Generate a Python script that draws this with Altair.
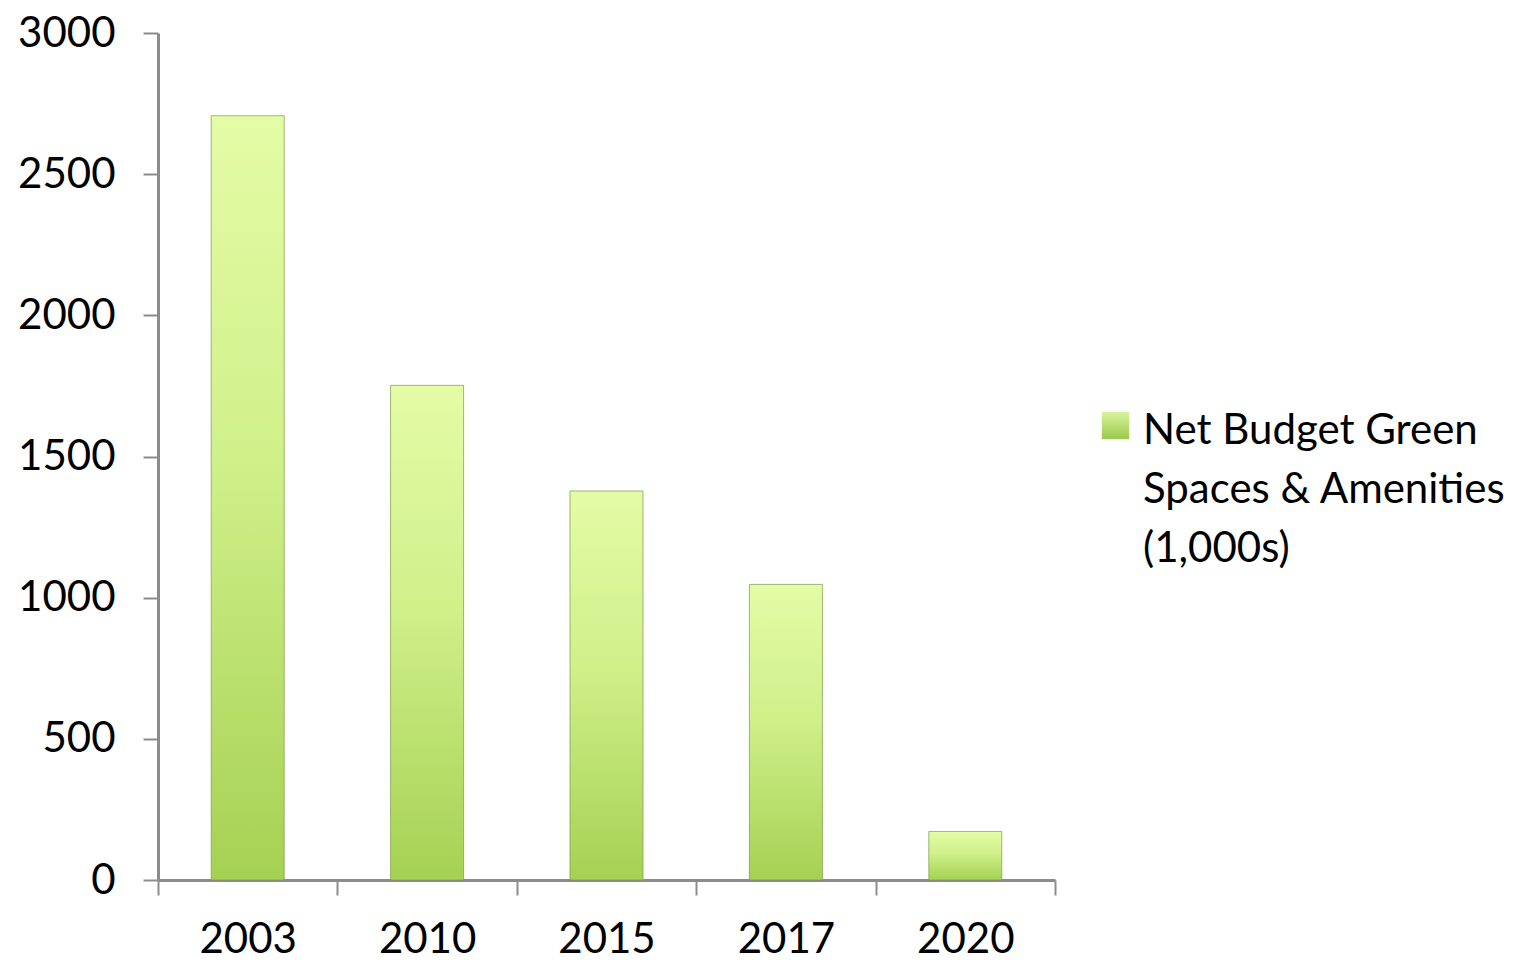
import altair as alt
import pandas as pd

years = ["2003", "2010", "2015", "2017", "2020"]
values = [2707, 1752, 1378, 1047, 172]
series_name = "Net Budget Green Spaces & Amenities (1,000s)"
legend_lines = ["Net Budget Green", "Spaces & Amenities", "(1,000s)"]

df = pd.DataFrame({"year": years, "value": values, "series": [series_name] * len(years)})

FONT = "Lato"
FS = 42


def make_gradient(stops):
    return alt.LinearGradient(
        gradient="linear", x1=0, x2=0, y1=0, y2=1,
        stops=[alt.GradientStop(offset=o, color=c) for o, c in stops],
    )


bar_gradient = make_gradient([(0, "#e4fca6"), (0.45, "#d0f08a"), (1, "#a5d153")])
legend_gradient = make_gradient([(0, "#d8f59a"), (1, "#9cc84c")])

x_enc = alt.X(
    "year:N",
    sort=years,
    title=None,
    scale=alt.Scale(paddingInner=0, paddingOuter=0),
    axis=alt.Axis(
        labelAngle=0, tickBand="extent", tickSize=15, tickWidth=2,
        domainWidth=3, domainColor="#8c8c8c", tickColor="#8c8c8c",
        labelFont=FONT, labelFontSize=FS, labelColor="#000000",
        labelPadding=24,
    ),
)
y_enc = alt.Y(
    "value:Q",
    title=None,
    scale=alt.Scale(domain=[0, 3000]),
    axis=alt.Axis(
        values=[0, 500, 1000, 1500, 2000, 2500, 3000], grid=False, format="d",
        tickSize=15, tickWidth=2, domainWidth=3,
        domainColor="#8c8c8c", tickColor="#8c8c8c",
        labelFont=FONT, labelFontSize=FS, labelColor="#000000",
        labelPadding=28,
    ),
)

bars = alt.Chart(df).mark_bar(
    color=bar_gradient, stroke="#7a9a48", strokeWidth=1, strokeOpacity=0.7,
    width=alt.RelativeBandSize(0.407),
).encode(x=x_enc, y=y_enc)

legend_layer = alt.Chart(df).mark_point(
    filled=True, color=legend_gradient, opacity=0, size=1
).encode(
    x=x_enc,
    y=y_enc,
    shape=alt.Shape(
        "series:N",
        scale=alt.Scale(range=["square"]),
        legend=alt.Legend(
            title=legend_lines, titleOrient="right", titleAnchor="start",
            titleFont=FONT, titleFontSize=FS, titleFontWeight="normal",
            titleColor="#000000", titleLineHeight=59, titlePadding=12,
            titleBaseline="top", titleLimit=0,
            orient="none", legendX=943, legendY=378,
            symbolSize=750, symbolOpacity=1, symbolStrokeWidth=1,
            symbolStrokeColor="#7f9f4f",
            labelExpr="''", labelOffset=0, labelFontSize=1,
        ),
    ),
)

chart = alt.layer(bars, legend_layer).properties(
    width=897, height=847,
    padding={"left": 9, "top": 4, "right": 5, "bottom": 0},
).configure_view(stroke=None)

chart.save("out.html", embed_options={"renderer": "svg", "actions": False})
